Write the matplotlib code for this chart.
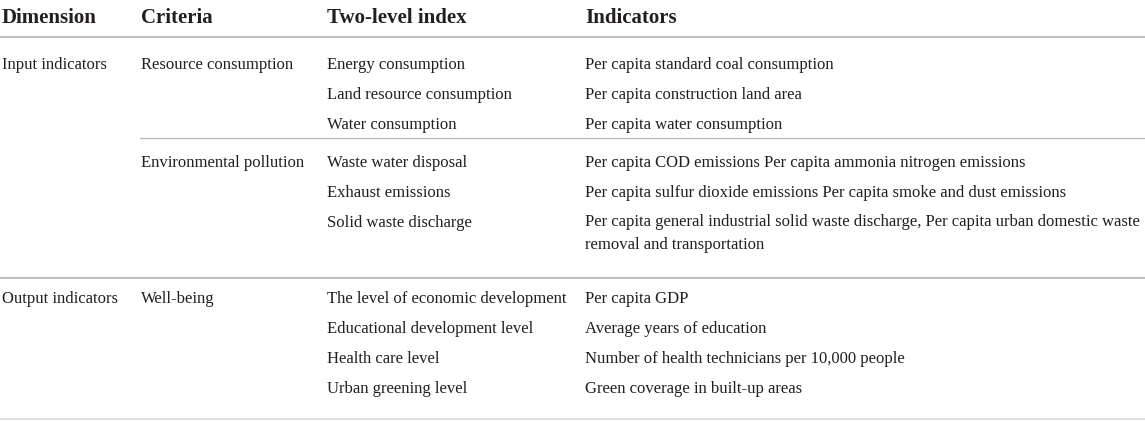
import matplotlib
matplotlib.use('Agg')
from matplotlib import pyplot as plt

headers = ['Dimension', 'Criteria', 'Two-level index', 'Indicators']
dimensions = ['Input indicators', 'Output indicators']
criteria = ['Resource consumption', 'Environmental pollution', 'Well-being']
two_level = ['Energy consumption', 'Land resource consumption', 'Water consumption',
             'Waste water disposal', 'Exhaust emissions', 'Solid waste discharge',
             'The level of economic development', 'Educational development level',
             'Health care level', 'Urban greening level']
indicators = ['Per capita standard coal consumption',
              'Per capita construction land area',
              'Per capita water consumption',
              'Per capita COD emissions Per capita ammonia nitrogen emissions',
              'Per capita sulfur dioxide emissions Per capita smoke and dust emissions',
              'Per capita general industrial solid waste discharge, Per capita urban domestic waste\nremoval and transportation',
              'Per capita GDP',
              'Average years of education',
              'Number of health technicians per 10,000 people',
              'Green coverage in built-up areas']

col_x = [2, 141, 327, 585]
row_y = [65, 95, 125, 163, 193, 223, 299, 329, 359, 389]
dim_rows = [0, 6]
crit_rows = [0, 3, 6]

fig = plt.figure(figsize=(11.45, 4.21), dpi=100)
ax = fig.add_axes([0, 0, 1, 1])
ax.set_xlim(0, 1145)
ax.set_ylim(421, 0)
ax.axis('off')

font = 'Liberation Serif'
txt = '#231f20'
fs = 12.0

for x, h in zip(col_x, headers):
	ax.text(x, 18, h, fontsize=15, fontweight='bold', family=font, color=txt, va='center')

for r, d in zip(dim_rows, dimensions):
	ax.text(col_x[0], row_y[r], d, fontsize=fs, family=font, color=txt, va='center')
for r, c in zip(crit_rows, criteria):
	ax.text(col_x[1], row_y[r], c, fontsize=fs, family=font, color=txt, va='center')
for y, t, ind in zip(row_y, two_level, indicators):
	ax.text(col_x[2], y, t, fontsize=fs, family=font, color=txt, va='center')
	if '\n' in ind:
		# wrapped cell: top aligned so the first line sits on the row
		ax.text(col_x[3], y - 9, ind, fontsize=fs, family=font, color=txt,
		        va='top', linespacing=1.55)
	else:
		ax.text(col_x[3], y, ind, fontsize=fs, family=font, color=txt, va='center')

ax.plot([0, 1145], [37, 37], color='#bdbdbd', lw=1.5)
ax.plot([140, 1145], [138, 138], color='#bdbdbd', lw=1)
ax.plot([0, 1145], [278, 278], color='#bdbdbd', lw=1.5)
ax.plot([0, 1145], [419, 419], color='#e0e0e0', lw=1.5)

fig.savefig('out.png', dpi=100)
